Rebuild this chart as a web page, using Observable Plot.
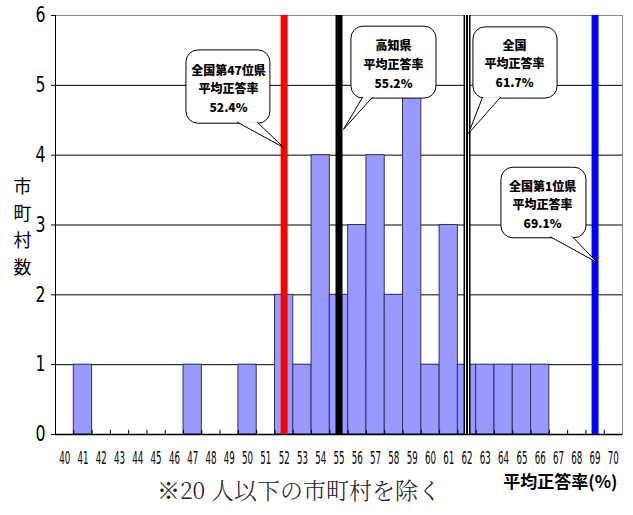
<!DOCTYPE html>
<html><head><meta charset="utf-8">
<script src="https://cdn.jsdelivr.net/npm/d3@7"></script>
<script src="https://cdn.jsdelivr.net/npm/@observablehq/plot@0.6"></script>
<style>body{margin:0;background:#fff}</style>
</head><body><div id="chart"></div>
<script>
// histogram data: municipalities by average correct-answer rate (%)
const scores = [41,47,50,52,53,54,55,56,57,58,59,60,61,62,63,64,65,66];
const counts = [1,1,1,2,1,4,2,3,4,2,5,1,3,1,1,1,1,1];
const xTicks = d3.range(40, 71);
const yTicks = [0,1,2,3,4,5,6];

// reference lines
const refNames = ["全国第47位県","高知県","全国","全国第1位県"];
const refValues = [52.4, 55.2, 61.7, 69.1];
const refLinePos = [52, 55, 62, 69];

// callout layout in data units: box [x1,x2,y1,y2], pointer tip [x,y], pointer base [xL,xR], text anchor [x,y]
const calloutBox = [[46.66,51.25,4.45,5.50],[55.68,60.33,4.81,5.84],[62.35,66.95,4.81,5.83],[63.88,68.53,2.81,3.82]];
const calloutTip = [[51.97,4.11],[55.25,4.37],[62.08,4.31],[69.13,2.46]];
const calloutBase = [[49.45,50.54],[56.29,56.83],[62.85,63.83],[66.56,67.77]];
const calloutText = [[48.96,4.97],[57.98,5.32],[64.60,5.33],[66.13,3.31]];

const yLabel = "市\n町\n村\n数";
const xLabel = "平均正答率(%)";
const caption = "※20 人以下の市町村を除く";

const bars = scores.map((s, i) => ({score: s, count: counts[i]}));
const halfTicks = d3.range(40.5, 70, 1);
const boxes = calloutBox.map((b, i) => ({x1: b[0], x2: b[1], y1: b[2], y2: b[3]}));
const pointers = calloutTip.flatMap((t, i) => [
  {id: i, x: calloutBase[i][0], y: calloutBox[i][2] + 0.02},
  {id: i, x: t[0], y: t[1]},
  {id: i, x: calloutBase[i][1], y: calloutBox[i][2] + 0.02}
]);
const labels = calloutText.map((t, i) => ({x: t[0], y: t[1], text: `${refNames[i]}\n平均正答率\n${refValues[i].toFixed(1)}%`}));

const cjk = "'Noto Sans CJK JP', 'Noto Sans CJK SC', sans-serif";
const narrow = "'Liberation Sans Narrow', 'DejaVu Sans Condensed', 'Liberation Sans', sans-serif";

const chart = Plot.plot({
  width: 633, height: 515,
  marginLeft: 55, marginRight: 11, marginTop: 15, marginBottom: 81,
  style: {fontFamily: narrow, background: "#fff", color: "#000"},
  x: {domain: [39.5, 70.5], label: null},
  y: {domain: [0, 6], label: null},
  marks: [
    Plot.gridY([1,2,3,4,5], {stroke: "#000", strokeOpacity: 1}),
    Plot.frame({stroke: "#888"}),
    Plot.rectY(bars, {x1: d => d.score - 0.5, x2: d => d.score + 0.5, y: "count", fill: "#9999ff", stroke: "#333355", strokeWidth: 1}),
    Plot.ruleX(halfTicks, {y1: 0, y2: 0.06, stroke: "#000"}),
    Plot.ruleY([0], {stroke: "#000", strokeWidth: 1.5}),
    Plot.ruleX([39.5], {y1: 0, y2: 6, stroke: "#000"}),
    Plot.axisX({ticks: xTicks, tickSize: 0, tickPadding: 17, tickFormat: "d", fontSize: 17, label: null}),
    Plot.axisY({ticks: yTicks, tickSize: 4, tickPadding: 6, tickFormat: "d", fontSize: 21, label: null}),
    Plot.ruleX([refLinePos[0]], {y1: 0, y2: 6, stroke: "#ff0000", strokeWidth: 7}),
    Plot.ruleX([refLinePos[1]], {y1: 0, y2: 6, stroke: "#000", strokeWidth: 7}),
    Plot.ruleX([refLinePos[2]], {y1: 0, y2: 6, stroke: "#000", strokeWidth: 7}),
    Plot.ruleX([refLinePos[2]], {y1: 0, y2: 6, stroke: "#fff", strokeWidth: 1, dx: -1.5}),
    Plot.ruleX([refLinePos[2]], {y1: 0, y2: 6, stroke: "#fff", strokeWidth: 1, dx: 1.5}),
    Plot.ruleX([refLinePos[3]], {y1: 0, y2: 6, stroke: "#0000ff", strokeWidth: 7}),
    Plot.rect(boxes, {x1: "x1", x2: "x2", y1: "y1", y2: "y2", fill: "#fff", stroke: "#000", strokeWidth: 1, rx: 12}),
    Plot.line(pointers, {x: "x", y: "y", z: "id", fill: "#fff", stroke: "#000", strokeWidth: 1, curve: "linear"}),
    Plot.text(labels, {x: "x", y: "y", text: "text", fontFamily: cjk, fontWeight: 900, fontSize: 12, lineHeight: 1.55, fill: "#000"}),
    Plot.text([yLabel], {text: d => d, frameAnchor: "left", textAnchor: "middle", dx: -33, fontFamily: cjk, fontSize: 18, lineHeight: 1.5, fill: "#000"}),
    Plot.text([xLabel], {text: d => d, frameAnchor: "bottom-right", textAnchor: "end", dx: -5, dy: 53, fontFamily: cjk, fontWeight: "bold", fontSize: 17, fill: "#000"}),
    Plot.text([caption], {text: d => d, frameAnchor: "bottom", textAnchor: "middle", dx: -40, dy: 64, fontFamily: "'Noto Serif CJK JP', " + cjk, fontWeight: 300, fontSize: 23, fill: "#222"})
  ]
});

d3.select(chart).selectAll('g[aria-label="x-axis tick label"] text')
  .style("font-size", "17px").attr("textLength", 11).attr("lengthAdjust", "spacingAndGlyphs");
d3.select(chart).selectAll('g[aria-label="y-axis tick label"] text')
  .style("font-size", "21px").attr("textLength", 10).attr("lengthAdjust", "spacingAndGlyphs");
document.getElementById("chart").appendChild(chart);
</script>
</body></html>
